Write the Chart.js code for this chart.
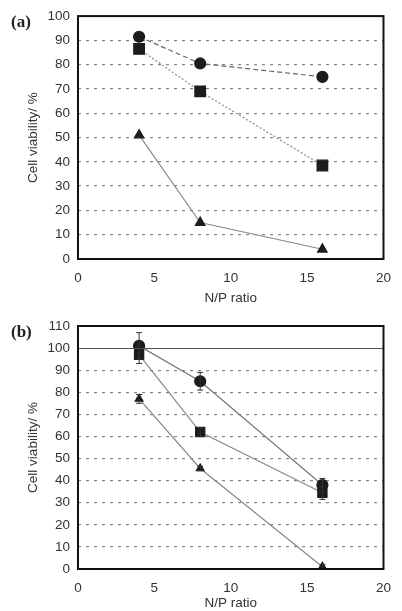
<!DOCTYPE html>
<html>
<head>
<meta charset="utf-8">
<script src="https://cdn.jsdelivr.net/npm/chart.js@4/dist/chart.umd.min.js"></script>
<style>
  html, body { margin: 0; padding: 0; background: #fff; }
  body { width: 402px; height: 611px; position: relative; overflow: hidden; }
  .box { position: absolute; left: 0; width: 402px; }
  .tag { position: absolute; left: 11px; font: bold 17px "Liberation Serif", serif; color: #222; }
</style>
</head>
<body>
<div class="box" style="top:0;height:306px"><canvas id="chartA"></canvas></div>
<div class="box" style="top:306px;height:305px"><canvas id="chartB"></canvas></div>
<div class="tag" style="top:12px">(a)</div>
<div class="tag" style="top:322px">(b)</div>
<script>
// N/P ratios
const npRatio = [4, 8, 16];

// panel (a)
const aCircle = [91.5, 80.5, 75];
const aSquare = [86.5, 69, 38.5];
const aTriangle = [51, 15, 4];

// panel (b)
const bCircle = [101, 85, 38];
const bSquare = [97, 62, 34.5];
const bTriangle = [77, 45.5, 1];
const bCircleErr = [6, 4, 3];
const bSquareErr = [4, 2, 3];
const bTriangleErr = [2, 1, 1];

const xTicks = [0, 5, 10, 15, 20];

const font = { family: 'Arial, "Liberation Sans", sans-serif', size: 13.5 };
const ink = '#1c1c1c';

const pts = (ys) => npRatio.map((x, i) => ({x: x, y: ys[i]}));

// frame + reference line + error bars
const frame = {
  id: 'frame',
  afterDatasetsDraw(chart, args, opts) {
    const {ctx, chartArea: a, scales: {x, y}} = chart;
    ctx.save();
    if (opts.refLine != null) {
      const py = Math.round(y.getPixelForValue(opts.refLine)) + 0.5;
      ctx.strokeStyle = '#555';
      ctx.lineWidth = 1;
      ctx.beginPath(); ctx.moveTo(a.left, py); ctx.lineTo(a.right, py); ctx.stroke();
    }
    (opts.errors || []).forEach((errs, di) => {
      const ds = chart.data.datasets[di];
      ctx.strokeStyle = '#333';
      ctx.lineWidth = 1;
      ds.data.forEach((p, i) => {
        const e = errs[i];
        if (!e) return;
        const px = x.getPixelForValue(p.x);
        const y1 = y.getPixelForValue(p.y + e), y2 = y.getPixelForValue(p.y - e);
        ctx.beginPath();
        ctx.moveTo(px, y1); ctx.lineTo(px, y2);
        ctx.moveTo(px - 3, y1); ctx.lineTo(px + 3, y1);
        ctx.moveTo(px - 3, y2); ctx.lineTo(px + 3, y2);
        ctx.stroke();
      });
    });
    ctx.strokeStyle = '#111';
    ctx.lineWidth = 2;
    ctx.strokeRect(a.left, a.top, a.right - a.left, a.bottom - a.top);
    ctx.restore();
  }
};

const makeChart = (id, sets, yMax, area, extra) => {
  return new Chart(document.getElementById(id), {
    type: 'scatter',
    data: {
      datasets: sets.map(s => ({
        data: pts(s.values),
        showLine: true,
        pointStyle: s.style,
        pointRadius: s.r,
        backgroundColor: ink,
        pointBorderColor: ink,
        borderColor: s.line,
        borderWidth: 1.2,
        borderDash: s.dash || [],
        tension: 0,
      }))
    },
    options: {
      animation: false,
      responsive: true,
      maintainAspectRatio: false,
      layout: { padding: { top: area.top, right: 11, left: 0, bottom: 0 } },
      plugins: {
        legend: { display: false },
        tooltip: { enabled: false },
        frame: extra
      },
      scales: {
        x: {
          type: 'linear', min: 0, max: 20,
          afterBuildTicks: (s) => { s.ticks = xTicks.map(v => ({value: v})); },
          afterFit: (s) => { s.height = area.xh; },
          grid: { display: false, drawTicks: false },
          border: { display: false },
          ticks: { color: '#333', font: font, padding: 11 },
          title: { display: true, text: 'N/P ratio', color: '#333', font: font, padding: { top: 0, bottom: 0 } }
        },
        y: {
          min: 0, max: yMax,
          ticks: { stepSize: 10, color: '#333', font: font, padding: 8 },
          afterFit: (s) => { s.width = 78; },
          grid: {
            drawTicks: false,
            color: (c) => (c.tick && (c.tick.value === 0 || c.tick.value >= 100)) ? 'rgba(0,0,0,0)' : '#8a8a8a',
            lineWidth: 1.3
          },
          border: { display: false, dash: [3, 5] },
          title: { display: true, text: 'Cell viability/ %', color: '#333', font: font, padding: { top: 25, bottom: 0 } }
        }
      }
    },
    plugins: [frame]
  });
};

makeChart('chartA', [
  { values: aCircle, style: 'circle', r: 5.5, line: '#666', dash: [5, 3] },
  { values: aSquare, style: 'rect', r: 7.5, line: '#8a8a8a', dash: [2, 2] },
  { values: aTriangle, style: 'triangle', r: 5.5, line: '#8a8a8a' }
], 100, { top: 15, xh: 47 }, {});

makeChart('chartB', [
  { values: bCircle, style: 'circle', r: 5.5, line: '#777' },
  { values: bSquare, style: 'rect', r: 6.5, line: '#888' },
  { values: bTriangle, style: 'triangle', r: 4.5, line: '#888' }
], 110, { top: 20, xh: 42 }, { refLine: 100, errors: [bCircleErr, bSquareErr, bTriangleErr] });
</script>
</body>
</html>
